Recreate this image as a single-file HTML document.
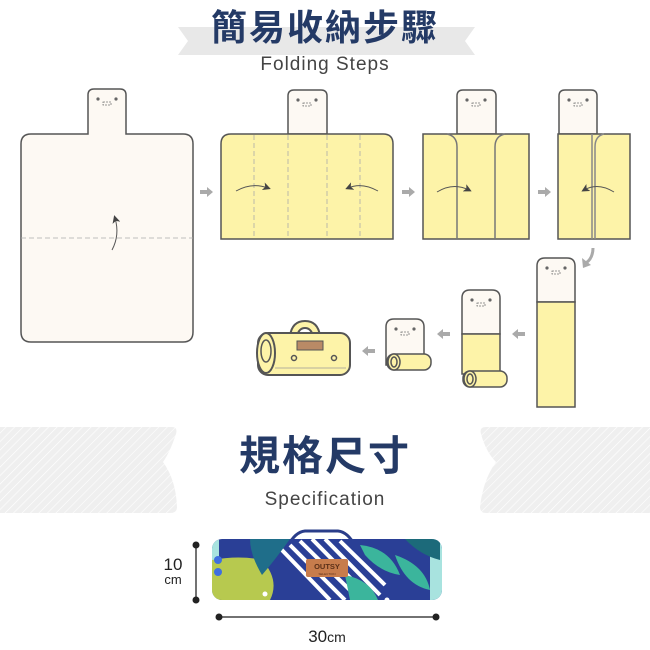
<!DOCTYPE html>
<html><head><meta charset="utf-8"><style>
html,body{margin:0;padding:0;background:#fff}
svg{display:block}
text{font-family:"Liberation Sans","Noto Sans CJK TC",sans-serif}
</style></head><body>
<svg width="650" height="650" viewBox="0 0 650 650" xmlns="http://www.w3.org/2000/svg">
<defs>
<pattern id="hatch" width="6" height="6" patternUnits="userSpaceOnUse" patternTransform="rotate(45)">
<rect width="6" height="6" fill="#efefef"/><line x1="0" y1="0" x2="0" y2="6" stroke="#fff" stroke-width="1.2"/>
</pattern>
<marker id="ah" markerWidth="8" markerHeight="8" refX="5" refY="4" orient="auto" markerUnits="userSpaceOnUse"><path d="M0,0 L8,4 L0,8 L2,4 z" fill="#444"/></marker>
<g id="tabdeco"><circle cx="-9" cy="7" r="1.6" fill="#666"/><circle cx="9" cy="7" r="1.6" fill="#666"/><rect x="-4" y="10" width="8" height="3" fill="none" stroke="#777" stroke-width="0.8" stroke-dasharray="2,1"/></g>
<clipPath id="roll"><rect x="212" y="539" width="230" height="61" rx="10"/></clipPath>
</defs>

<!-- top ribbon -->
<path d="M178,27 H475 L465,41 L475,55 H178 L188,41 Z" fill="#e8e8e8"/>
<text x="325" y="40" text-anchor="middle" font-size="36" font-weight="bold" fill="#243a66" letter-spacing="2">簡易收納步驟</text>
<text x="325" y="70" text-anchor="middle" font-size="19" fill="#444" letter-spacing="1">Folding Steps</text>

<g stroke="#555" stroke-width="1.5">
<!-- step1 -->
<path d="M88,134 V95 Q88,89 94,89 H120 Q126,89 126,95 V134 H183 Q193,134 193,144 V332 Q193,342 183,342 H31 Q21,342 21,332 V144 Q21,134 31,134 Z" fill="#fdf9f3"/>
<line x1="21" y1="238" x2="193" y2="238" stroke="#aaa" stroke-width="0.8" stroke-dasharray="5,3"/>
<path d="M112,250 Q120,235 115,218" fill="none" stroke-width="1" marker-end="url(#ah)"/>
<!-- step2 -->
<path d="M288,134 V96 Q288,90 294,90 H321 Q327,90 327,96 V134 Z" fill="#fdf9f3"/>
<path d="M221,239 V144 Q221,134 231,134 H383 Q393,134 393,144 V239 Z" fill="#fdf3a8"/>
<g stroke="#aaa" stroke-width="0.8" stroke-dasharray="5,3"><line x1="254" y1="135" x2="254" y2="239"/><line x1="288" y1="135" x2="288" y2="239"/><line x1="327" y1="135" x2="327" y2="239"/><line x1="360" y1="135" x2="360" y2="239"/></g>
<path d="M236,191 Q252,182 268,188" fill="none" stroke-width="1" marker-end="url(#ah)"/>
<path d="M378,191 Q362,182 348,188" fill="none" stroke-width="1" marker-end="url(#ah)"/>
<!-- step3 -->
<path d="M457,134 V96 Q457,90 463,90 H490 Q496,90 496,96 V134 Z" fill="#fdf9f3"/>
<rect x="423" y="134" width="106" height="105" fill="#fdf3a8"/>
<path d="M447,134 Q457,136 457,147 V239 M505,134 Q495,136 495,147 V239" fill="none" stroke="#777"/>
<path d="M437,192 Q453,182 469,190" fill="none" stroke-width="1" marker-end="url(#ah)"/>
<!-- step4 -->
<path d="M559,134 V96 Q559,90 565,90 H591 Q597,90 597,96 V134 Z" fill="#fdf9f3"/>
<rect x="558" y="134" width="72" height="105" fill="#fdf3a8"/>
<path d="M592,134 V239 M604,134 Q595,136 595,147 V239" fill="none" stroke="#888"/>
<path d="M614,192 Q598,182 584,190" fill="none" stroke-width="1" marker-end="url(#ah)"/>
<!-- step5 -->
<path d="M537,302 V266 Q537,258 545,258 H567 Q575,258 575,266 V302 Z" fill="#fdf9f3"/>
<rect x="537" y="302" width="38" height="105" fill="#fdf3a8"/>
<!-- step6 -->
<path d="M462,334 V298 Q462,290 470,290 H492 Q500,290 500,298 V334 Z" fill="#fdf9f3"/>
<rect x="462" y="334" width="38" height="40" fill="#fdf3a8"/>
<rect x="463" y="371" width="44" height="16" rx="7" fill="#fdf3a8"/>
<ellipse cx="470" cy="379" rx="6" ry="8" fill="#fdf3a8"/><ellipse cx="470" cy="379" rx="3" ry="5" fill="#fdf3a8"/>
<!-- step7 -->
<path d="M386,365 V327 Q386,319 394,319 H416 Q424,319 424,327 V365 Z" fill="#fdf9f3"/>
<rect x="387" y="354" width="44" height="16" rx="7" fill="#fdf3a8"/>
<ellipse cx="394" cy="362" rx="6" ry="8" fill="#fdf3a8"/><ellipse cx="394" cy="362" rx="3" ry="5" fill="#fdf3a8"/>
<!-- step8 -->
<path d="M290,336 Q292,321 305,321 Q318,321 320,336 H313 Q311,328 305,328 Q299,328 297,336 Z" fill="#fdf3a8" stroke-width="2"/>
<rect x="258" y="333" width="92" height="42" rx="10" fill="#fdf3a8" stroke-width="2"/>
<ellipse cx="266" cy="353" rx="9" ry="20" fill="#fdf3a8" stroke-width="2"/>
<ellipse cx="266" cy="351" rx="5" ry="11" fill="#fdf3a8"/>
<rect x="297" y="341" width="26" height="9" fill="#b98a66" stroke-width="1"/>
<circle cx="294" cy="358" r="2.5" fill="none" stroke-width="1.5"/><circle cx="334" cy="358" r="2.5" fill="none" stroke-width="1.5"/>
<line x1="275" y1="368" x2="346" y2="368" stroke="#999" stroke-width="0.8"/>
</g>
<use href="#tabdeco" x="107" y="92"/><use href="#tabdeco" x="307" y="93"/><use href="#tabdeco" x="476" y="93"/><use href="#tabdeco" x="578" y="93"/>
<use href="#tabdeco" x="556" y="261"/><use href="#tabdeco" x="481" y="293"/><use href="#tabdeco" x="405" y="322"/>

<!-- gray arrows -->
<g fill="#aaa">
<path d="M200,190 h7 v-3 l6,5 l-6,5 v-3 h-7z"/>
<path d="M402,190 h7 v-3 l6,5 l-6,5 v-3 h-7z"/>
<path d="M538,190 h7 v-3 l6,5 l-6,5 v-3 h-7z"/>
<path d="M525,332 h-7 v-3 l-6,5 l6,5 v-3 h7z"/>
<path d="M450,332 h-7 v-3 l-6,5 l6,5 v-3 h7z"/>
<path d="M375,349 h-7 v-3 l-6,5 l6,5 v-3 h7z"/>
</g>
<path d="M593,248 Q593,258 586,263" fill="none" stroke="#aaa" stroke-width="3"/>
<path d="M582,258 L583,268 L591,265 Z" fill="#aaa"/>

<!-- spec band -->
<path d="M0,427 H172 Q178,427 176,434 Q170,452 163,462 Q176,480 177,507 Q177,513 170,513 H0 Z" fill="url(#hatch)"/>
<path d="M650,427 H486 Q479,427 481,434 Q486,452 496,462 Q483,480 480,507 Q480,513 486,513 H650 Z" fill="url(#hatch)"/>
<text x="325" y="470" text-anchor="middle" font-size="41" font-weight="bold" fill="#243a66" letter-spacing="2">規格尺寸</text>
<text x="325" y="505" text-anchor="middle" font-size="19" fill="#444" letter-spacing="1">Specification</text>

<!-- product -->
<path d="M288,546 Q295,532 305,531 H338 Q348,532 355,546" fill="none" stroke="#2a3d8a" stroke-width="3"/>
<g clip-path="url(#roll)">
<rect x="212" y="539" width="230" height="61" fill="#2a3f96"/>
<rect x="430" y="539" width="14" height="61" fill="#a8e3df"/>
<rect x="210" y="539" width="9" height="61" fill="#a8e3df"/>
<g stroke="#fff" stroke-width="4">
<line x1="280" y1="548" x2="330" y2="600"/><line x1="290" y1="545" x2="345" y2="600"/><line x1="300" y1="541" x2="360" y2="600"/><line x1="312" y1="539" x2="372" y2="600"/><line x1="325" y1="539" x2="380" y2="595"/><line x1="340" y1="541" x2="385" y2="585"/>
</g>
<path d="M212,560 Q240,555 262,560 Q280,580 270,600 H212 Z" fill="#b7c94f"/>
<path d="M250,539 H290 Q275,560 262,575 Q250,555 250,539Z" fill="#1f6e8a"/>
<path d="M360,545 Q390,548 400,575 Q380,572 365,555Z" fill="#3bb59c"/>
<path d="M395,555 Q425,565 430,590 Q405,585 395,555Z" fill="#3bb59c"/>
<path d="M345,575 Q370,580 378,600 H350Z" fill="#3bb59c"/>
<path d="M405,539 H440 V560 Q420,555 405,539Z" fill="#1c6a7a"/>
<circle cx="218" cy="560" r="4" fill="#3f6fe0"/><circle cx="218" cy="572" r="4" fill="#3f6fe0"/>
</g>
<rect x="306" y="559" width="42" height="18" rx="2" fill="#c77c4c"/>
<text x="327" y="569" text-anchor="middle" font-size="7.5" font-weight="bold" fill="#5a2f18">OUTSY</text>
<text x="327" y="575" text-anchor="middle" font-size="3" fill="#5a2f18">SELECTION</text>
<circle cx="265" cy="594" r="2.5" fill="#fff"/><circle cx="387" cy="600" r="2.5" fill="#fff"/>

<!-- dimensions -->
<line x1="196" y1="545" x2="196" y2="600" stroke="#444" stroke-width="1.5"/>
<circle cx="196" cy="545" r="3.5" fill="#222"/><circle cx="196" cy="600" r="3.5" fill="#222"/>
<line x1="219" y1="617" x2="436" y2="617" stroke="#444" stroke-width="1.5"/>
<circle cx="219" cy="617" r="3.5" fill="#222"/><circle cx="436" cy="617" r="3.5" fill="#222"/>
<text x="173" y="570" text-anchor="middle" font-size="17" fill="#222">10</text>
<text x="173" y="584" text-anchor="middle" font-size="13" fill="#222">cm</text>
<text x="327" y="642" text-anchor="middle" font-size="17" fill="#222">30<tspan font-size="14">cm</tspan></text>
</svg>
</body></html>
